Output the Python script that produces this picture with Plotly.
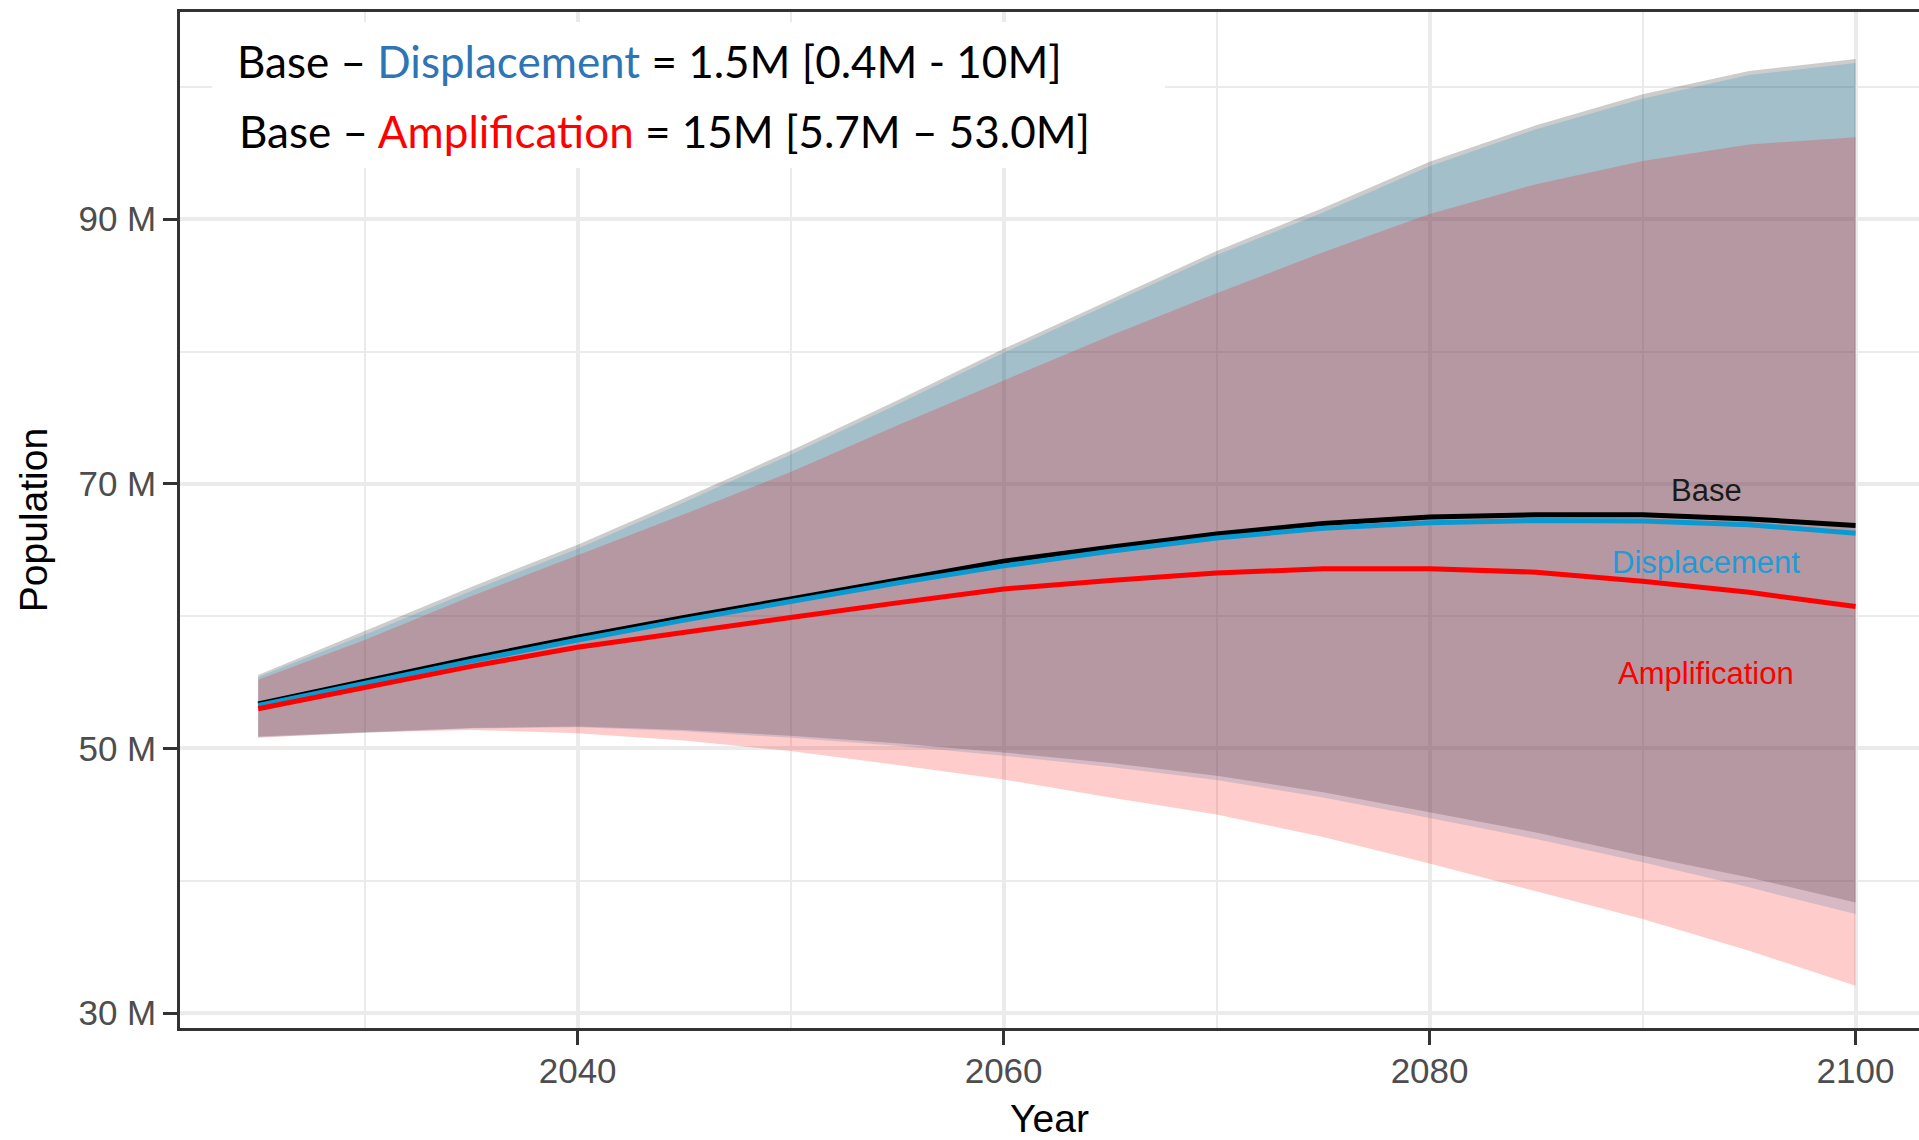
import plotly.graph_objects as go

years = [2025, 2030, 2035, 2040, 2045, 2050, 2055, 2060, 2065, 2070, 2075, 2080, 2085, 2090, 2095, 2100]

base_mid = [53.37, 55.10, 56.80, 58.40, 59.90, 61.30, 62.75, 64.15, 65.20, 66.20, 67.00, 67.50, 67.66, 67.66, 67.35, 66.85]
base_lo = [50.90, 51.25, 51.55, 51.65, 51.40, 50.95, 50.40, 49.70, 48.90, 47.94, 46.68, 45.17, 43.65, 41.89, 40.25, 38.36]
base_hi = [55.55, 58.90, 62.20, 65.40, 68.90, 72.50, 76.30, 80.20, 83.90, 87.60, 90.85, 94.35, 97.10, 99.45, 101.20, 102.10]

disp_mid = [53.25, 54.95, 56.60, 58.20, 59.70, 61.10, 62.50, 63.80, 64.90, 65.90, 66.65, 67.05, 67.23, 67.18, 66.90, 66.27]
disp_lo = [50.85, 51.20, 51.50, 51.60, 51.30, 50.80, 50.20, 49.45, 48.60, 47.62, 46.30, 44.74, 43.15, 41.39, 39.50, 37.48]
disp_hi = [55.40, 58.60, 61.90, 65.10, 68.60, 72.20, 76.00, 79.90, 83.60, 87.30, 90.50, 94.00, 96.80, 99.10, 100.90, 101.80]

amp_mid = [53.00, 54.60, 56.20, 57.65, 58.80, 59.90, 61.00, 62.05, 62.70, 63.25, 63.58, 63.58, 63.32, 62.64, 61.80, 60.73]
amp_lo = [50.80, 51.20, 51.40, 51.15, 50.60, 49.80, 48.75, 47.65, 46.30, 45.00, 43.30, 41.30, 39.20, 37.10, 34.70, 32.06]
amp_hi = [55.20, 58.20, 61.50, 64.60, 67.70, 70.90, 74.40, 77.80, 81.20, 84.40, 87.50, 90.40, 92.65, 94.40, 95.65, 96.20]

y_ticks = [30, 50, 70, 90]
y_tick_text = ["30 M", "50 M", "70 M", "90 M"]
y_minor = [40, 60, 80, 100]
x_ticks = [2040, 2060, 2080, 2100]
x_minor = [2030, 2050, 2070, 2090]

labels = ["Base", "Displacement", "Amplification"]
label_y = [69.53, 64.07, 55.66]
label_x = 2093

BLACK = "#000000"
BLUE = "#0A9AD2"
RED = "#FF0000"

fig = go.Figure()

bands = [
    (base_lo, base_hi, "rgba(0,0,0,0.2)"),
    (disp_lo, disp_hi, "rgba(0,140,195,0.2)"),
    (amp_lo, amp_hi, "rgba(255,0,0,0.2)"),
]
for lo, hi, fc in bands:
    fig.add_trace(go.Scatter(x=years, y=lo, mode="lines", line=dict(width=0),
                             showlegend=False, hoverinfo="skip"))
    fig.add_trace(go.Scatter(x=years, y=hi, mode="lines", line=dict(width=0),
                             fill="tonexty", fillcolor=fc, showlegend=False, hoverinfo="skip"))

for vals, col in [(base_mid, BLACK), (disp_mid, BLUE), (amp_mid, RED)]:
    fig.add_trace(go.Scatter(x=years, y=vals, mode="lines", line=dict(color=col, width=5),
                             showlegend=False))

label_colors = ["#1a1a1a", "#1F9BD6", RED]
for t, yv, c in zip(labels, label_y, label_colors):
    fig.add_annotation(x=label_x, y=yv, text=t, showarrow=False, xanchor="center", yanchor="middle",
                       font=dict(family="Liberation Sans, Arial, sans-serif", size=31, color=c))

# white box behind the summary text
fig.add_shape(type="rect", xref="paper", yref="paper",
              x0=(212 - 180) / 1739, x1=(1165 - 180) / 1739,
              y0=(1028 - 168) / 1016, y1=(1028 - 22) / 1016,
              fillcolor="white", line=dict(width=0), layer="above")

txt_font = dict(family="Lato, sans-serif", size=44, color="black")
fig.add_annotation(xref="paper", yref="paper", x=(235 - 180) / 1739, y=(1028 - 61) / 1016,
                   xanchor="left", yanchor="middle", showarrow=False,
                   text="Base – <span style='color:#2E75B6'>Displacement</span> = 1.5M [0.4M - 10M]",
                   font=txt_font)
fig.add_annotation(xref="paper", yref="paper", x=(237 - 180) / 1739, y=(1028 - 131) / 1016,
                   xanchor="left", yanchor="middle", showarrow=False,
                   text="Base – <span style='color:#FF0000'>Amplification</span> = 15M [5.7M – 53.0M]",
                   font=txt_font)

axis_font = dict(family="Liberation Sans, Arial, sans-serif", size=35, color="#4d4d4d")
title_font = dict(family="Liberation Sans, Arial, sans-serif", size=39, color="black")

fig.update_layout(
    width=1919, height=1140,
    margin=dict(l=180, r=0, t=12, b=112, autoexpand=False),
    paper_bgcolor="white", plot_bgcolor="white",
    xaxis=dict(range=[2021.33, 2102.98], tickvals=x_ticks, ticktext=[str(v) for v in x_ticks],
               showgrid=True, gridcolor="#ebebeb", gridwidth=3.5,
               minor=dict(tickvals=x_minor, showgrid=True, gridcolor="#ebebeb", gridwidth=2),
               showline=True, linecolor="#333333", linewidth=2.5, mirror=True,
               ticks="outside", ticklen=14, tickwidth=3, tickcolor="#333333",
               tickfont=axis_font, zeroline=False, ticklabelstandoff=-4, automargin=False,
               title=dict(text="Year", font=title_font, standoff=26)),
    yaxis=dict(range=[28.87, 105.66], tickvals=y_ticks, ticktext=y_tick_text,
               showgrid=True, gridcolor="#ebebeb", gridwidth=3.5,
               minor=dict(tickvals=y_minor, showgrid=True, gridcolor="#ebebeb", gridwidth=2),
               showline=True, linecolor="#333333", linewidth=2.5, mirror=False,
               ticks="outside", ticklen=14, tickwidth=3, tickcolor="#333333",
               tickfont=axis_font, zeroline=False, automargin=False,
               title=dict(text="Population", font=title_font, standoff=19)),
    showlegend=False,
)

fig.write_html("out.html")
